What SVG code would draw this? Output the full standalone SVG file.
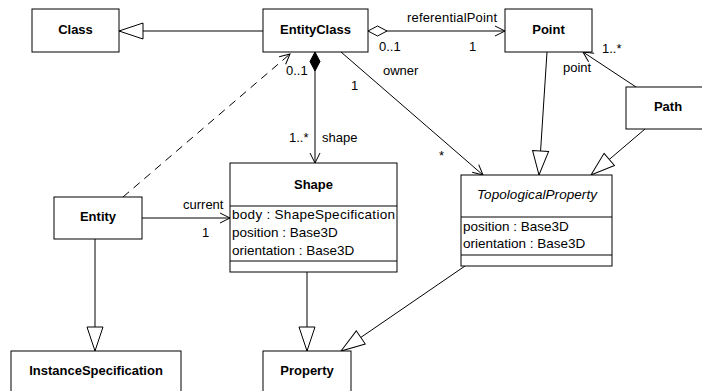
<svg xmlns="http://www.w3.org/2000/svg" width="702" height="391" viewBox="0 0 702 391">
<style>
.box{fill:#fff;stroke:#000;stroke-width:1}
.n{font-family:"Liberation Sans",Arial,sans-serif;font-size:13px;font-weight:bold;text-anchor:middle;fill:#000}
.ni{font-family:"Liberation Sans",Arial,sans-serif;font-size:13.5px;font-style:italic;text-anchor:middle;fill:#000}
.a{font-family:"Liberation Sans",Arial,sans-serif;font-size:13.5px;fill:#000}
.l{font-family:"Liberation Sans",Arial,sans-serif;font-size:13px;fill:#000}
.ln{fill:none;stroke:#000;stroke-width:1}
.dash{fill:none;stroke:#000;stroke-width:1;stroke-dasharray:8 6}
</style>
<defs>
<marker id="open" viewBox="0 0 12 12" refX="11" refY="6" markerWidth="12" markerHeight="12" markerUnits="userSpaceOnUse" orient="auto">
<path d="M1,1 L11,6 L1,11" fill="none" stroke="#000" stroke-width="1"/>
</marker>
<marker id="gen" viewBox="0 0 26 18" refX="25" refY="9" markerWidth="26" markerHeight="18" markerUnits="userSpaceOnUse" orient="auto">
<path d="M1,1 L25,9 L1,17 Z" fill="#fff" stroke="#000" stroke-width="1"/>
</marker>
<marker id="diamondW" viewBox="0 0 22 12" refX="1" refY="6" markerWidth="22" markerHeight="12" markerUnits="userSpaceOnUse" orient="auto">
<path d="M1,6 L10.5,1 L20,6 L10.5,11 Z" fill="#fff" stroke="#000" stroke-width="1"/>
</marker>
<marker id="diamondB" viewBox="0 0 22 12" refX="1" refY="6" markerWidth="22" markerHeight="12" markerUnits="userSpaceOnUse" orient="auto">
<path d="M1,6 L10.5,1 L20,6 L10.5,11 Z" fill="#000" stroke="#000" stroke-width="1"/>
</marker>
</defs>
<g id="connectors">
<line class="ln" x1="263" y1="31" x2="119" y2="31" marker-end="url(#gen)"/>
<line class="ln" x1="368" y1="31" x2="505" y2="31" marker-start="url(#diamondW)" marker-end="url(#open)"/>
<line class="ln" x1="315" y1="52" x2="315" y2="163" marker-start="url(#diamondB)" marker-end="url(#open)"/>
<line class="dash" x1="123" y1="197" x2="290" y2="54" marker-end="url(#open)"/>
<line class="ln" x1="341" y1="52" x2="483" y2="175" marker-end="url(#open)"/>
<line class="ln" x1="547" y1="52" x2="539" y2="175" marker-end="url(#gen)"/>
<line class="ln" x1="636" y1="87" x2="583" y2="52" marker-end="url(#open)"/>
<line class="ln" x1="645" y1="129" x2="591" y2="175" marker-end="url(#gen)"/>
<line class="ln" x1="142" y1="218" x2="230" y2="218" marker-end="url(#open)"/>
<line class="ln" x1="95" y1="239" x2="95" y2="351" marker-end="url(#gen)"/>
<line class="ln" x1="307" y1="272" x2="307" y2="351" marker-end="url(#gen)"/>
<line class="ln" x1="465" y1="266" x2="341" y2="351" marker-end="url(#gen)"/>
<text class="l" x="407" y="22" textLength="90">referentialPoint</text>
<text class="l" x="379" y="51">0..1</text>
<text class="l" x="469" y="51">1</text>
<text class="l" x="286" y="75">0..1</text>
<text class="l" x="383" y="75">owner</text>
<text class="l" x="351" y="90">1</text>
<text class="l" x="289" y="142">1..*</text>
<text class="l" x="322" y="142">shape</text>
<text class="l" x="439" y="160">*</text>
<text class="l" x="602" y="53">1..*</text>
<text class="l" x="563" y="72">point</text>
<text class="l" x="183" y="209">current</text>
<text class="l" x="202" y="237">1</text>
</g>
<g id="Class"><rect class="box" x="32" y="9" width="87" height="43"/><text class="n" x="75.5" y="34">Class</text></g>
<g id="EntityClass"><rect class="box" x="263" y="9" width="105" height="43"/><text class="n" x="315.5" y="34">EntityClass</text></g>
<g id="Point"><rect class="box" x="505" y="9" width="87" height="43"/><text class="n" x="548.5" y="34">Point</text></g>
<g id="Path"><rect class="box" x="626" y="87" width="84" height="42"/><text class="n" x="668" y="111">Path</text></g>
<g id="TopologicalProperty"><rect class="box" x="461" y="175" width="151" height="91"/><line class="ln" x1="461" y1="217" x2="612" y2="217"/><line class="ln" x1="461" y1="255" x2="612" y2="255"/><text class="ni" x="537" y="199" textLength="120">TopologicalProperty</text><text class="a" x="463" y="231">position : Base3D</text><text class="a" x="463" y="248">orientation : Base3D</text></g>
<g id="Shape"><rect class="box" x="230" y="163" width="167" height="109"/><line class="ln" x1="230" y1="206" x2="397" y2="206"/><line class="ln" x1="230" y1="261" x2="397" y2="261"/><text class="n" x="313.5" y="189">Shape</text><text class="a" x="232" y="219" textLength="163">body : ShapeSpecification</text><text class="a" x="232" y="237">position : Base3D</text><text class="a" x="232" y="255">orientation : Base3D</text></g>
<g id="Entity"><rect class="box" x="54" y="197" width="88" height="42"/><text class="n" x="98" y="221">Entity</text></g>
<g id="InstanceSpecification"><rect class="box" x="11" y="351" width="170" height="50"/><text class="n" x="96" y="375">InstanceSpecification</text></g>
<g id="Property"><rect class="box" x="263" y="351" width="88" height="50"/><text class="n" x="307" y="375">Property</text></g>
</svg>
